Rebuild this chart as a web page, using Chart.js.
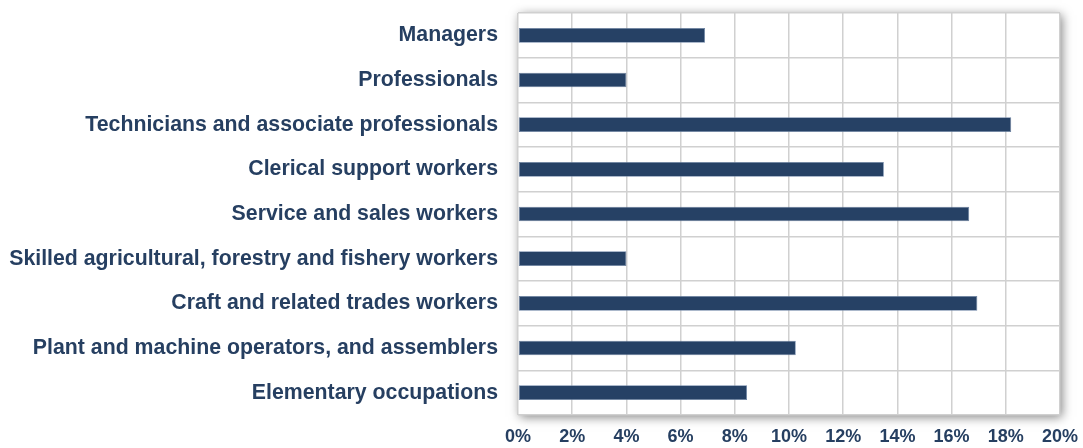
<!DOCTYPE html>
<html>
<head>
<meta charset="utf-8">
<script src="https://cdn.jsdelivr.net/npm/chart.js@4.4.1/dist/chart.umd.min.js"></script>
<style>
  html, body { margin: 0; padding: 0; background: #ffffff; }
  #wrap { width: 1083px; height: 448px; }
</style>
</head>
<body>
<div id="wrap"><canvas id="myChart" width="1083" height="448"></canvas></div>
<script>
// dados
const categorias = [
    'Managers',
    'Professionals',
    'Technicians and associate professionals',
    'Clerical support workers',
    'Service and sales workers',
    'Skilled agricultural, forestry and fishery workers',
    'Craft and related trades workers',
    'Plant and machine operators, and assemblers',
    'Elementary occupations'
];
const percentuais = [6.9, 4.0, 18.2, 13.5, 16.65, 4.0, 16.95, 10.25, 8.45];
const ticksX = [0, 2, 4, 6, 8, 10, 12, 14, 16, 18, 20];

const corTexto = '#263f61';
const corBarra = '#264165';

// desenha o fundo branco com sombra atrás da área do gráfico
const sombraPlugin = {
    id: 'sombra',
    beforeDraw(chart) {
        const { ctx, chartArea: a } = chart;
        ctx.save();
        ctx.shadowColor = 'rgba(0,0,0,0.5)';
        ctx.shadowBlur = 10;
        ctx.shadowOffsetX = 2;
        ctx.shadowOffsetY = 2;
        ctx.fillStyle = '#ffffff';
        ctx.fillRect(a.left, a.top, a.right - a.left, a.bottom - a.top);
        ctx.restore();
    }
};

const ctx = document.getElementById('myChart');
const myChart = new Chart(ctx, {
    type: 'bar',
    data: {
        labels: categorias,
        datasets: [{
            data: percentuais,
            backgroundColor: corBarra,
            borderColor: '#6b82a3',
            borderWidth: 0.8,
            borderSkipped: false,
            categoryPercentage: 1,
            barPercentage: 0.33
        }]
    },
    options: {
        indexAxis: 'y',
        responsive: false,
        animation: false,
        layout: { padding: { top: 13, right: 23, bottom: 0, left: 0 } },
        plugins: {
            legend: { display: false },
            tooltip: { enabled: false }
        },
        scales: {
            x: {
                min: 0,
                max: 20,
                afterBuildTicks(scale) {
                    scale.ticks = ticksX.map(v => ({ value: v }));
                },
                afterFit(scale) {
                    scale.height = 33;
                    scale.paddingLeft = 0;
                    scale.paddingRight = 0;
                },
                ticks: {
                    callback: v => v + '%',
                    color: corTexto,
                    font: { family: 'Liberation Sans', size: 18, weight: 'bold' },
                    padding: 11,
                    maxRotation: 0
                },
                grid: { color: '#d0d0d0', lineWidth: 1.5, drawTicks: false },
                border: { display: false }
            },
            y: {
                afterFit(scale) {
                    scale.width = 518;
                    scale.paddingTop = 0;
                    scale.paddingBottom = 0;
                },
                ticks: {
                    color: corTexto,
                    font: { family: 'Liberation Sans', size: 21.3, weight: 'bold' },
                    padding: 20
                },
                grid: { color: '#d0d0d0', lineWidth: 1.5, drawTicks: false, offset: true },
                border: { display: false }
            }
        }
    },
    plugins: [sombraPlugin]
});
</script>
</body>
</html>
